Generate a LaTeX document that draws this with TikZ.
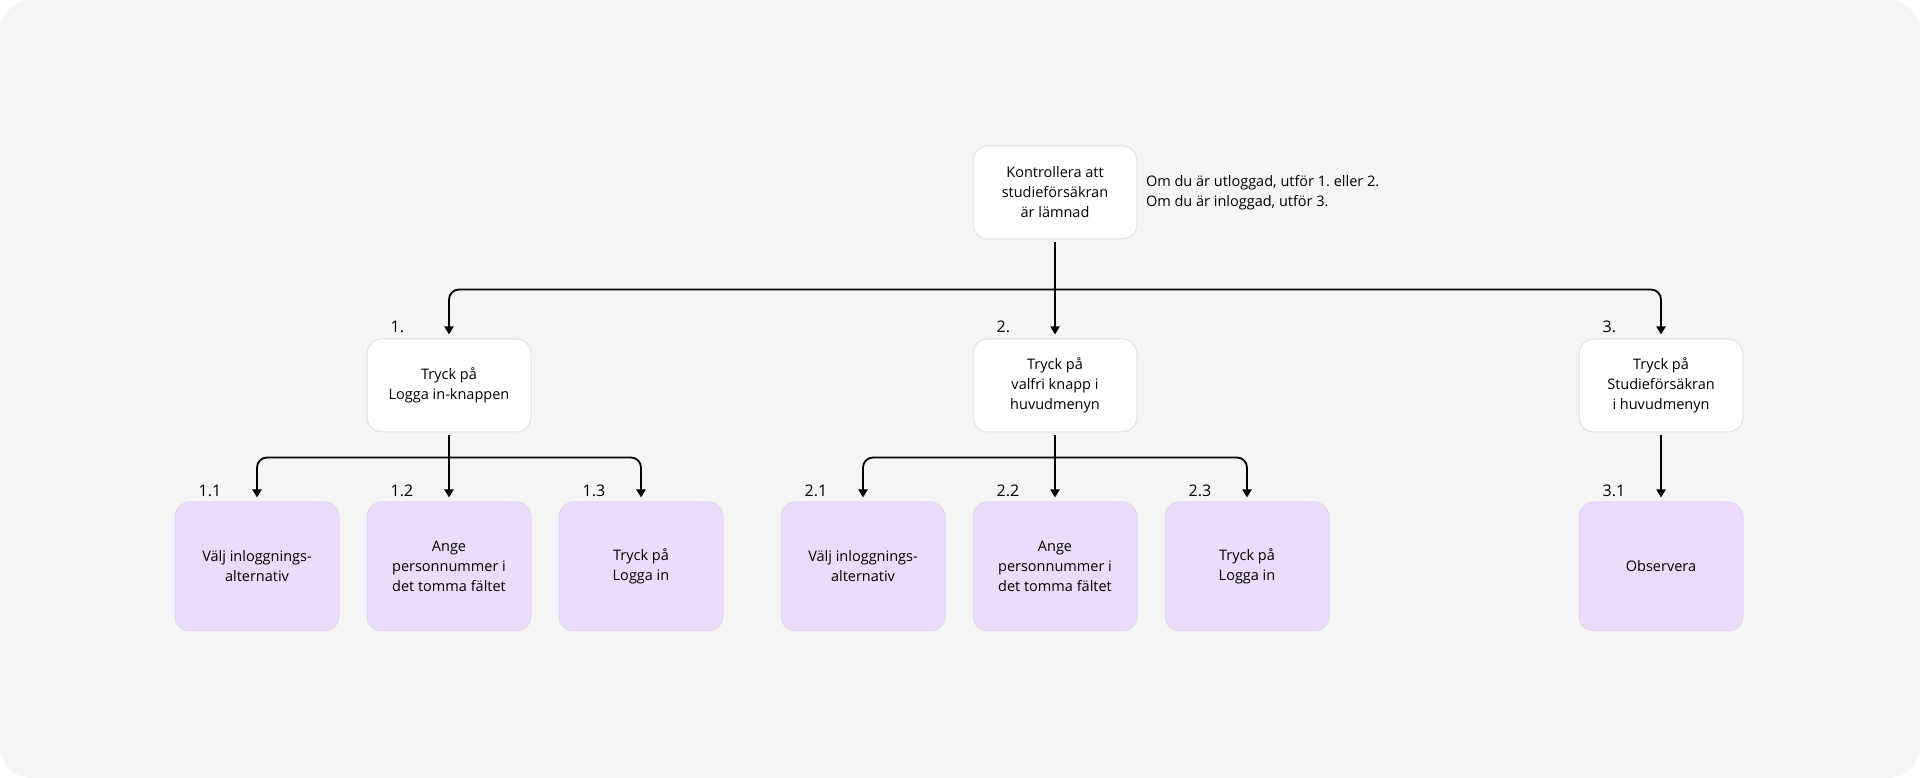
\documentclass[tikz,border=0pt]{standalone}
\usepackage{fontspec}
\setmainfont{Open Sans}
\usetikzlibrary{arrows.meta}
\frenchspacing
\definecolor{bgcol}{HTML}{F5F5F5}
\definecolor{rimcol}{HTML}{E2E2E2}
\definecolor{lila}{HTML}{EBDCFC}
\definecolor{lilarim}{HTML}{E4D6F4}
\tikzstyle{whitebox} = [rectangle, draw=rimcol, line width=1pt, fill=white, 
align=center, rounded corners=15pt, minimum width=164pt, minimum height=93pt, font=\fontsize{14.5}{20}\selectfont]
\tikzstyle{lilabox} = [rectangle, draw=lilarim, line width=1pt, fill=lila, 
align=center, rounded corners=15pt, minimum width=164pt, minimum height=129pt, font=\fontsize{14.5}{20}\selectfont]
\tikzstyle{num} = [anchor=south west, inner sep=0pt, font=\fontsize{16}{18}\selectfont]
\tikzstyle{line} = [draw, line width=1.8pt, -{Triangle[width=9pt,length=8pt]}, rounded corners=10pt, shorten >=4pt]
\begin{document}
\begin{tikzpicture}[x=1pt, y=1pt, node distance=192pt]
	\fill [white] (0,0) rectangle (1920,778);
	\fill [bgcol, rounded corners=32pt] (0,0) rectangle (1920,778);
	\useasboundingbox (0,0) rectangle (1920,778);
	% top
	\node [whitebox] (check) at (1055,585.5) {Kontrollera att\\studieförsäkran\\är lämnad};
	\node [anchor=west, align=left, font=\fontsize{14.5}{20}\selectfont] (hint) at ([xshift=5pt]check.east) {Om du är utloggad, utför 1. eller 2.\\Om du är inloggad, utför 3.};
	% steps
	\node [whitebox] (tryckA) at (449,392.5) {Tryck på\\Logga in-knappen};
	\node [whitebox] (tryckB) at (1055,392.5) {Tryck på\\valfri knapp i\\huvudmenyn};
	\node [whitebox] (tryckC) at (1661,392.5) {Tryck på\\Studieförsäkran\\i huvudmenyn};
	\node [num] (numA) at ([xshift=24pt,yshift=6pt]tryckA.north west) {1.};
	\node [num] (numB) at ([xshift=24pt,yshift=6pt]tryckB.north west) {2.};
	\node [num] (numC) at ([xshift=24pt,yshift=6pt]tryckC.north west) {3.};
	% substeps
	\node [lilabox] (subA2) at (449,211.5) {Ange\\personnummer i\\det tomma fältet};
	\node [lilabox, left of=subA2] (subA1) {Välj inloggnings-\\alternativ};
	\node [lilabox, right of=subA2] (subA3) {Tryck på\\Logga in};
	\node [lilabox] (subB2) at (1055,211.5) {Ange\\personnummer i\\det tomma fältet};
	\node [lilabox, left of=subB2] (subB1) {Välj inloggnings-\\alternativ};
	\node [lilabox, right of=subB2] (subB3) {Tryck på\\Logga in};
	\node [lilabox] (subC1) at (1661,211.5) {Observera};
	\node [num] (numA1) at ([xshift=24pt,yshift=5pt]subA1.north west) {1.1};
	\node [num] (numA2) at ([xshift=24pt,yshift=5pt]subA2.north west) {1.2};
	\node [num] (numA3) at ([xshift=24pt,yshift=5pt]subA3.north west) {1.3};
	\node [num] (numB1) at ([xshift=24pt,yshift=5pt]subB1.north west) {2.1};
	\node [num] (numB2) at ([xshift=24pt,yshift=5pt]subB2.north west) {2.2};
	\node [num] (numB3) at ([xshift=24pt,yshift=5pt]subB3.north west) {2.3};
	\node [num] (numC1) at ([xshift=24pt,yshift=5pt]subC1.north west) {3.1};
	% arrows
	\coordinate (forkTop) at ([yshift=-50pt]check.south);
	\coordinate (forkA) at ([yshift=-25pt]tryckA.south);
	\coordinate (forkB) at ([yshift=-25pt]tryckB.south);
	\path [line, shorten <=3pt] (check.south) -- (tryckB.north);
	\path [line] (forkTop) -| (tryckA.north);
	\path [line] (forkTop) -| (tryckC.north);
	\path [line, shorten <=3pt] (tryckA.south) -- (subA2.north);
	\path [line] (forkA) -| (subA1.north);
	\path [line] (forkA) -| (subA3.north);
	\path [line, shorten <=3pt] (tryckB.south) -- (subB2.north);
	\path [line] (forkB) -| (subB1.north);
	\path [line] (forkB) -| (subB3.north);
	\path [line, shorten <=3pt] (tryckC.south) -- (subC1.north);
\end{tikzpicture}
\end{document}
